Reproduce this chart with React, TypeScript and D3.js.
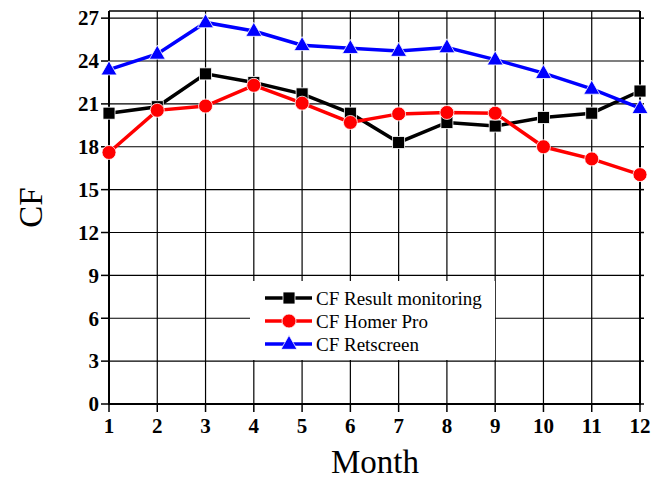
import React from "react";
import * as d3 from "d3";

const months = [1, 2, 3, 4, 5, 6, 7, 8, 9, 10, 11, 12];
const cfMonitoring = [20.35, 20.8, 23.1, 22.5, 21.7, 20.35, 18.3, 19.7, 19.45, 20.05, 20.35, 21.9];
const cfHomer = [17.6, 20.55, 20.85, 22.3, 21.05, 19.7, 20.3, 20.4, 20.35, 18.0, 17.15, 16.05];
const cfRetscreen = [23.4, 24.5, 26.7, 26.1, 25.1, 24.9, 24.7, 24.95, 24.1, 23.15, 22.05, 20.7];
const yTicks = [0, 3, 6, 9, 12, 15, 18, 21, 24, 27];
const seriesNames = ["CF Result monitoring", "CF Homer Pro", "CF Retscreen"];
const seriesColors = ["#000000", "#ff0000", "#0000ff"];

const W = 652, H = 481;
const L = 109, R = 640, T = 11, B = 404;
const FONT = "Liberation Serif, Times New Roman, Times, serif";

function Marker({ kind, x, y, color }: { kind: number; x: number; y: number; color: string }) {
  if (kind === 0) return <rect x={x - 6} y={y - 6} width={12} height={12} fill={color} stroke="#fff" strokeWidth={0.8} />;
  if (kind === 1) return <circle cx={x} cy={y} r={7} fill={color} stroke="#fff" strokeWidth={0.8} />;
  const s = 16;
  const h = 14;
  return <path d={`M${x},${y - h * 0.62} L${x + s / 2},${y + h * 0.38} L${x - s / 2},${y + h * 0.38} Z`} fill={color} stroke="#fff" strokeWidth={0.8} />;
}

export default function App() {
  const x = d3.scaleLinear().domain([1, 12]).range([L, R]);
  const y = d3.scaleLinear().domain([0, 27.5]).range([B, T]);
  const all = [cfMonitoring, cfHomer, cfRetscreen];
  const line = d3.line<number>().x((_, i) => x(months[i])).y((d) => y(d));
  const leg = { x: 250, y: 281, w: 245, h: 79 };
  const tf = { fontFamily: FONT };
  return (
    <svg width={W} height={H} style={{ position: "absolute", left: 0, top: 0, background: "#fff" }}>
      {months.map((m) => (
        <line key={"gx" + m} x1={x(m)} x2={x(m)} y1={T} y2={B} stroke="#000" strokeWidth={1.2} />
      ))}
      {yTicks.map((t) => (
        <line key={"gy" + t} x1={L} x2={R} y1={y(t)} y2={y(t)} stroke="#000" strokeWidth={1.2} />
      ))}
      <line x1={L} x2={R} y1={T} y2={T} stroke="#000" strokeWidth={1.5} />
      <line x1={R} x2={R} y1={T} y2={B} stroke="#000" strokeWidth={2} />
      <line x1={L} x2={L} y1={T} y2={B + 1} stroke="#000" strokeWidth={2} />
      <line x1={L - 1} x2={R + 1} y1={B} y2={B} stroke="#000" strokeWidth={2} />
      {yTicks.map((t) => (
        <g key={"ty" + t}>
          <line x1={L - 8} x2={L} y1={y(t)} y2={y(t)} stroke="#000" strokeWidth={1.5} />
          <line x1={R} x2={R + 4} y1={y(t)} y2={y(t)} stroke="#000" strokeWidth={1.5} />
          <text x={L - 10} y={y(t)} dy="0.35em" textAnchor="end" fontSize={21} fontWeight="bold" style={tf}>{t}</text>
        </g>
      ))}
      {months.map((m) => (
        <g key={"tx" + m}>
          <line x1={x(m)} x2={x(m)} y1={B} y2={B + 8} stroke="#000" strokeWidth={1.5} />
          <text x={x(m)} y={B + 29} textAnchor="middle" fontSize={21} fontWeight="bold" style={tf}>{m}</text>
        </g>
      ))}
      {all.map((s, si) => (
        <path key={"l" + si} d={line(s) || ""} fill="none" stroke={seriesColors[si]} strokeWidth={3.5} />
      ))}
      {all.map((s, si) =>
        s.map((v, i) => <Marker key={`m${si}-${i}`} kind={si} x={x(months[i])} y={y(v)} color={seriesColors[si]} />)
      )}
      <rect x={leg.x} y={leg.y} width={leg.w} height={leg.h} fill="#fff" />
      {seriesNames.map((n, i) => {
        const ly = 298 + i * 23;
        return (
          <g key={"lg" + i}>
            <line x1={265} x2={312} y1={ly} y2={ly} stroke={seriesColors[i]} strokeWidth={3.5} />
            <Marker kind={i} x={289} y={ly} color={seriesColors[i]} />
            <text x={316} y={ly} dy="0.35em" fontSize={19} style={tf}>{n}</text>
          </g>
        );
      })}
      <text x={375} y={473} textAnchor="middle" fontSize={33} style={tf}>Month</text>
      <text transform={`translate(42,${(T + B) / 2}) rotate(-90)`} textAnchor="middle" fontSize={33} style={tf}>CF</text>
    </svg>
  );
}
